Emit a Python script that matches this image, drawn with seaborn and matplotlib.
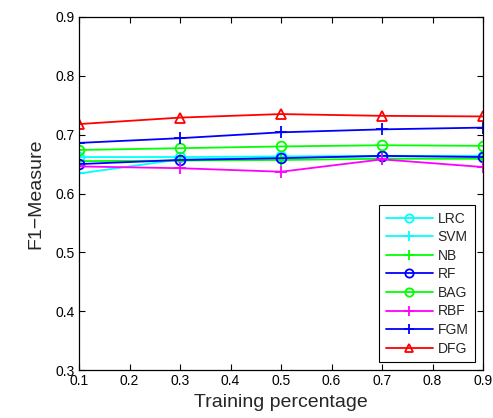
import matplotlib
matplotlib.use("Agg")
import matplotlib.pyplot as plt
import seaborn as sns
import pandas as pd

sns.set_style("white")
plt.rcParams["font.family"] = ["Liberation Sans", "DejaVu Sans"]

training_pct = [0.1, 0.3, 0.5, 0.7, 0.9]
methods = ["LRC", "SVM", "NB", "RF", "BAG", "RBF", "FGM", "DFG"]

lrc = [0.662, 0.662, 0.663, 0.664, 0.664]
svm = [0.634, 0.658, 0.661, 0.663, 0.663]
nb = [0.655, 0.656, 0.657, 0.659, 0.659]
rf = [0.650, 0.657, 0.660, 0.664, 0.662]
bag = [0.674, 0.677, 0.680, 0.682, 0.681]
rbf = [0.646, 0.643, 0.637, 0.658, 0.645]
fgm = [0.686, 0.694, 0.704, 0.709, 0.712]
dfg = [0.718, 0.729, 0.735, 0.732, 0.731]

series = {"LRC": lrc, "SVM": svm, "NB": nb, "RF": rf,
          "BAG": bag, "RBF": rbf, "FGM": fgm, "DFG": dfg}
colors = {"LRC": "#00ffff", "SVM": "#00ffff", "NB": "#00ff00", "RF": "#0000ff",
          "BAG": "#00ff00", "RBF": "#ff00ff", "FGM": "#0000ff", "DFG": "#ff0000"}
markers = {"LRC": "o", "SVM": "+", "NB": "+", "RF": "o",
           "BAG": "o", "RBF": "+", "FGM": "+", "DFG": "^"}
msizes = {"o": 7, "+": 9, "^": 7.5}

df = pd.DataFrame([
    {"Training percentage": x, "F1-Measure": v, "Method": m}
    for m in methods for x, v in zip(training_pct, series[m])
])

fig = plt.figure(figsize=(4.93, 4.18), dpi=100)
ax = fig.add_axes([79 / 493, 1 - 370 / 418, (483 - 79) / 493, (370 - 17) / 418])

for m in methods:
    sub = df[df["Method"] == m]
    sns.lineplot(data=sub, x="Training percentage", y="F1-Measure", ax=ax,
                 color=colors[m], marker=markers[m], markersize=msizes[markers[m]],
                 markerfacecolor="none", markeredgecolor=colors[m], markeredgewidth=1.3,
                 linewidth=1.3, label=m)

ax.set_xlim(0.1, 0.9)
ax.set_ylim(0.3, 0.9)
ax.set_xticks([0.1, 0.2, 0.3, 0.4, 0.5, 0.6, 0.7, 0.8, 0.9])
ax.set_yticks([0.3, 0.4, 0.5, 0.6, 0.7, 0.8, 0.9])
ax.tick_params(direction="in", length=4, width=0.8, labelsize=10, colors="black",
               top=True, right=True, bottom=True, left=True, pad=3)
for s in ax.spines.values():
    s.set_color("black")
    s.set_linewidth(0.9)
ax.set_xlabel("Training percentage", fontsize=14, labelpad=4)
ax.set_ylabel("F1\u2212Measure", fontsize=14, labelpad=8)

leg = ax.legend(loc="lower right", bbox_to_anchor=(0.98, 0.023), fontsize=10,
                frameon=True, fancybox=False, edgecolor="black", framealpha=1,
                handlelength=3.4, handletextpad=0.35, labelspacing=0.33,
                borderpad=0.45, borderaxespad=0.0, markerscale=0.85)
leg.get_frame().set_linewidth(0.8)

fig.savefig("out.png", dpi=100, facecolor="white")
